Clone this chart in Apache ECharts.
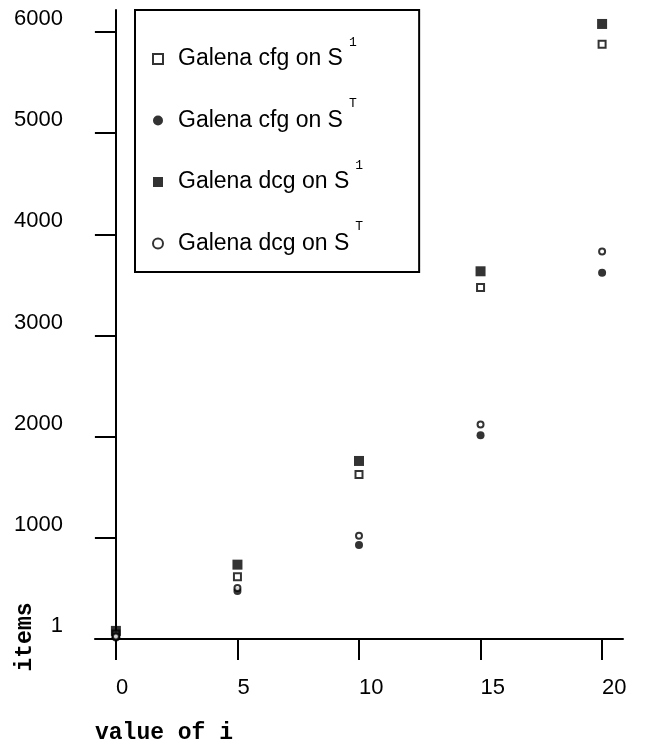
<!DOCTYPE html>
<html>
<head>
<meta charset="utf-8">
<script src="https://cdn.jsdelivr.net/npm/echarts@6/dist/echarts.min.js"></script>
<style>
  html, body { margin: 0; background: #fff; }
  #chart { width: 654px; height: 744px; }
</style>
</head>
<body>
<div id="chart"></div>
<script>
// values of i on the x axis
var iValues = [0, 5, 10, 15, 20];
var xTicks = [0, 5, 10, 15, 20];
var yTicks = [1, 1000, 2000, 3000, 4000, 5000, 6000];

// legend names, the part after ^ is the superscript
var seriesNames = ['Galena cfg on S^1', 'Galena cfg on S^T', 'Galena dcg on S^1', 'Galena dcg on S^T'];

// items
var cfgS1 = [50, 615, 1625, 3475, 5880];
var cfgST = [15, 475, 930, 2015, 3620];
var dcgS1 = [80, 735, 1760, 3635, 6080];
var dcgST = [25, 505, 1020, 2120, 3830];

function pairs(vals) {
  return iValues.map(function (x, k) { return [x, vals[k]]; });
}

function run() {
  var chart = echarts.init(document.getElementById('chart'));

  var axisLine = { show: true, lineStyle: { color: '#000', width: 2 } };
  var tick = { show: true, length: 21, lineStyle: { color: '#000', width: 2 } };
  var label = { color: '#000', fontFamily: 'Liberation Sans', fontSize: 22,
                formatter: function (v) { return String(v); } };

  var option = {
    animation: false,
    backgroundColor: '#fff',
    grid: { left: 95, top: 10, width: 528, height: 629, outerBoundsMode: 'none', containLabel: false },
    xAxis: {
      type: 'value',
      min: -0.86,
      max: 20.86,
      axisLine: Object.assign({ onZero: false }, axisLine),
      axisTick: Object.assign({ customValues: xTicks }, tick),
      axisLabel: Object.assign({ customValues: xTicks, margin: 38, align: 'left' }, label),
      splitLine: { show: false }
    },
    yAxis: {
      type: 'value',
      min: 0,
      max: 6218,
      axisLine: Object.assign({ onZero: true }, axisLine),
      axisTick: Object.assign({ customValues: yTicks }, tick),
      axisLabel: Object.assign({ customValues: yTicks, margin: 32, align: 'right',
        verticalAlign: 'bottom', padding: [0, 0, 2, 0] }, label),
      splitLine: { show: false }
    },
    legend: {
      orient: 'vertical',
      left: 135,
      top: 10,
      padding: [26, 56, 17, 17],
      itemWidth: 10,
      itemHeight: 10,
      itemGap: 27,
      borderColor: '#000',
      borderWidth: 2,
      borderRadius: 0,
      backgroundColor: '#fff',
      data: seriesNames,
      formatter: function (name) {
        var p = name.split('^');
        return '{a|' + p[0] + '}{s|' + p[1] + '}';
      },
      textStyle: {
        rich: {
          a: { fontFamily: 'Liberation Sans', fontSize: 23, lineHeight: 46, color: '#000',
               padding: [0, 0, 0, 10] },
          s: { fontFamily: 'Liberation Mono', fontSize: 13, lineHeight: 13, verticalAlign: 'top',
               padding: [0, 0, 0, 6], color: '#000' }
        }
      }
    },
    graphic: [
      { type: 'text', left: 95, top: 722,
        style: { text: 'value of i', font: 'bold 23px "Liberation Mono"', fill: '#000' } },
      { type: 'text', x: 25, y: 637, rotation: Math.PI / 2,
        style: { text: 'items', font: 'bold 23px "Liberation Mono"', fill: '#000',
                 align: 'center', verticalAlign: 'middle' } }
    ],
    series: [
      { name: seriesNames[0], type: 'scatter', data: pairs(cfgS1), symbol: 'emptyRect', symbolSize: 7,
        itemStyle: { color: '#000', borderColor: '#000', borderWidth: 2 } },
      { name: seriesNames[1], type: 'scatter', data: pairs(cfgST), symbol: 'circle', symbolSize: 8,
        itemStyle: { color: '#000' } },
      { name: seriesNames[2], type: 'scatter', data: pairs(dcgS1), symbol: 'rect', symbolSize: 10,
        itemStyle: { color: '#000' } },
      { name: seriesNames[3], type: 'scatter', data: pairs(dcgST), symbol: 'emptyCircle', symbolSize: 6,
        itemStyle: { color: '#000', borderColor: '#000', borderWidth: 1.8 } }
    ]
  };

  chart.setOption(option);
}

if (document.readyState !== 'loading') {
  run();
} else {
  document.addEventListener('DOMContentLoaded', run);
}
</script>
</body>
</html>
